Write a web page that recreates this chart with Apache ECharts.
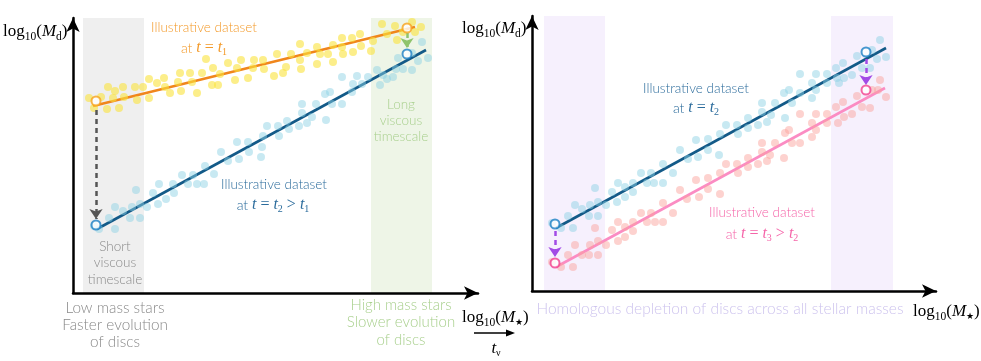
<!DOCTYPE html>
<html>
<head>
<meta charset="utf-8">
<script src="https://cdn.jsdelivr.net/npm/echarts@6/dist/echarts.min.js"></script>
<style>
html, body { margin: 0; padding: 0; background: #fff; }
#main { width: 981px; height: 361px; }
</style>
</head>
<body>
<div id="main"></div>
<script>
// arbitrary log units (x = log M*, y = log Md)
const yellowDots = [[1.6,19.5],[2.1,18.5],[2.8,19.6],[3.4,18.4],[3.5,20.6],[4.2,20.2],[4.0,19.5],[4.6,18.5],[5.0,20.6],[5.1,19.6],
  [6.2,20.6],[6.4,19.3],[7.0,20.6],[7.6,21.4],[7.6,19.5],[8.4,21.0],[9.1,21.5],[9.2,20.6],[9.7,20.0],[10.5,21.1],
  [10.7,22.0],[10.8,20.2],[11.7,22.0],[11.9,21.1],[12.4,20.0],[12.9,22.0],[13.3,23.4],[13.9,20.8],[14.0,22.5],[14.5,20.8],
  [14.7,21.9],[15.5,23.0],[16.2,21.3],[16.4,22.5],[16.8,23.3],[17.5,21.5],[18.0,22.5],[18.1,23.3],[19.0,23.3],[19.1,22.4],
  [20.1,21.7],[20.4,23.9],[21.0,22.0],[21.3,22.6],[21.8,23.9],[22.7,24.9],[22.7,23.3],[22.8,22.4],[23.4,24.0],[24.4,24.6],
  [24.4,22.9],[24.7,23.9],[25.5,23.9],[26.0,24.8],[26.0,23.1],[26.9,25.5],[26.9,24.6],[27.0,23.9],[27.9,25.5],[28.0,24.1],
  [28.7,25.9],[28.8,24.7],[29.8,24.2],[30.0,25.2],[30.9,26.9],[31.4,25.9],[32.2,26.7],[32.4,25.3],[33.0,26.1],[33.9,27.1],
  [34.2,26.1],[34.8,26.6]];

const blueDotsLeft = [[2.1,6.7],[2.6,6.4],[3.6,7.5],[4.2,6.4],[4.2,8.6],[5.0,8.2],[5.7,7.5],[5.9,8.6],[6.3,10.3],[6.7,7.5],
  [6.7,8.9],[7.4,8.6],[8.0,10.0],[8.5,8.9],[8.6,10.9],[9.3,9.4],[10.0,10.9],[10.1,10.0],[10.9,11.8],[11.5,10.9],
  [12.0,11.8],[12.4,10.9],[13.1,10.9],[13.2,12.7],[14.1,11.9],[14.8,14.1],[15.5,13.2],[16.4,15.1],[16.6,13.4],[17.5,15.1],
  [17.6,14.1],[18.8,13.6],[18.9,14.6],[19.0,15.7],[19.4,16.7],[20.5,16.7],[20.6,15.7],[21.4,17.2],[21.6,16.4],[22.6,16.7],
  [22.9,18.9],[22.9,18.0],[23.4,17.0],[23.9,17.6],[24.3,18.9],[25.2,19.9],[25.3,17.3],[25.7,20.1],[25.9,18.9],[26.9,21.6],
  [26.9,18.9],[27.9,20.1],[28.0,20.9],[28.4,21.7],[28.9,20.9],[29.5,21.6],[30.4,22.3],[30.7,20.8],[31.0,21.8],[31.4,21.4],
  [32.0,21.6],[32.3,22.4],[32.5,23.5],[33.0,22.4],[33.9,22.3],[33.9,24.0],[34.5,23.2],[34.9,25.1],[35.5,23.5]];

const blueDotsRight = [[2.0,6.8],[2.9,6.3],[3.6,7.5],[4.1,6.3],[4.3,8.6],[5.0,8.2],[5.7,7.5],[5.8,8.6],[6.3,10.3],[6.6,7.5],
  [6.6,8.9],[7.4,8.6],[8.0,9.9],[8.5,8.9],[8.6,10.8],[9.3,9.4],[9.3,10.4],[10.1,10.8],[10.1,9.9],[10.9,11.8],
  [11.5,10.8],[11.9,11.8],[12.2,10.8],[13.1,10.8],[13.1,12.7],[14.1,11.8],[14.8,14.1],[15.6,13.2],[16.4,15.1],[16.6,13.4],
  [17.6,15.2],[17.6,14.1],[18.7,13.6],[18.8,15.7],[19.4,16.6],[20.5,16.6],[20.6,15.7],[21.6,17.3],[21.6,16.3],[22.6,16.6],
  [23.0,18.8],[23.0,17.9],[23.5,16.9],[23.9,17.6],[24.3,18.8],[25.2,19.8],[25.3,17.3],[25.7,20.1],[26.0,18.8],[26.8,21.7],
  [26.8,19.8],[28.0,20.8],[28.0,19.3],[28.4,21.7],[28.4,20.1],[29.5,21.7],[29.5,20.8],[30.4,22.3],[30.5,21.3],[30.7,20.8],
  [31.1,22.8],[31.2,21.3],[32.0,21.6],[32.5,23.5],[33.0,22.3],[33.8,22.3],[34.0,24.1],[34.5,23.2],[34.8,25.1],[35.4,23.4]];

const pinkDots = [[2.0,2.9],[2.9,2.4],[3.6,3.6],[4.1,2.4],[4.3,4.6],[5.0,3.6],[5.7,3.6],[5.8,4.6],[6.3,6.3],[6.6,3.6],
  [6.6,5.0],[7.4,4.6],[8.0,6.1],[8.6,6.9],[8.6,5.0],[9.3,6.4],[9.3,5.4],[10.1,6.9],[10.1,6.0],[10.9,7.8],
  [11.5,6.9],[11.9,7.8],[12.3,6.9],[13.1,8.8],[13.1,6.9],[14.1,7.8],[14.8,10.1],[15.5,9.2],[16.4,11.1],[16.7,9.4],
  [17.6,11.3],[17.6,10.2],[18.8,11.8],[18.8,9.7],[19.4,12.7],[20.5,12.7],[20.6,11.8],[21.6,13.3],[21.6,12.4],[22.6,12.7],
  [23.0,14.8],[23.0,13.9],[23.5,13.0],[23.8,13.6],[24.3,14.8],[25.2,13.3],[25.3,15.8],[25.7,16.1],[26.0,14.8],[26.8,17.7],
  [26.8,14.8],[28.0,16.8],[28.0,15.4],[28.4,17.7],[28.4,16.1],[29.5,17.7],[29.5,16.8],[30.4,18.4],[30.6,16.8],[31.1,18.9],
  [31.2,17.4],[32.0,17.7],[32.5,19.5],[33.0,18.4],[33.8,18.3],[34.0,20.1],[34.6,20.1],[34.8,21.1],[35.4,19.4]];

// fitted trends
const orangeFit = [[2.0,18.7],[34.2,26.6]];
const blueFitLeft = [[2.4,6.4],[35.3,24.3]];
const blueFitRight = [[2.4,6.3],[35.4,24.3]];
const pinkFit = [[2.4,2.4],[35.3,20.3]];

// tracked points at low / high stellar mass
const orangeMarks = [[2.3,19.2],[33.4,26.5]];
const blueMarksLeft = [[2.3,6.8],[33.4,23.9]];
const blueMarksRight = [[2.3,6.7],[33.4,23.9]];
const pinkMarks = [[2.3,2.8],[33.4,20.1]];

// shaded mass ranges [x0, x1]
const lowBand = [1.0, 7.1];
const highBand = [29.8, 35.9];
const lowBandR = [1.2, 7.3];
const highBandR = [29.9, 36.1];

const sans = 'Lato, "Liberation Sans", sans-serif';
const serif = '"Liberation Serif", "DejaVu Serif", serif';

let myChart = echarts.init(document.getElementById('main'));

function axisPair(i, xmax) {
    let common = {
        gridIndex: i, type: 'value', min: 0, z: 10,
        axisLine: { show: true, onZero: false, symbol: ['none', 'arrow'], symbolSize: [10, 14],
                    lineStyle: { color: '#000', width: 2.5 } },
        axisTick: { show: false }, axisLabel: { show: false }, splitLine: { show: false }
    };
    return [Object.assign({}, common, { max: xmax }), Object.assign({}, common, { max: 27.5 })];
}

function band(range, color) {
    return [{ xAxis: range[0], yAxis: 0, itemStyle: { color: color } }, { xAxis: range[1], yAxis: 27.5 }];
}

function dots(i, data, color) {
    return { type: 'scatter', xAxisIndex: i, yAxisIndex: i, data: data, symbolSize: 8, z: 3,
             itemStyle: { color: color }, silent: true };
}

function fit(i, data, color) {
    return { type: 'line', xAxisIndex: i, yAxisIndex: i, data: data, symbol: 'none', z: 2,
             lineStyle: { color: color, width: 2.6 }, silent: true };
}

function marks(i, data, color) {
    return { type: 'scatter', xAxisIndex: i, yAxisIndex: i, data: data, symbolSize: 9, z: 6,
             itemStyle: { color: '#fff', borderColor: color, borderWidth: 2 }, silent: true };
}

function arrow(i, from, to, color) {
    return { type: 'line', xAxisIndex: i, yAxisIndex: i, data: [], z: 5,
             markLine: { silent: true, symbol: ['none', 'arrow'], symbolSize: [10, 10], label: { show: false },
                         lineStyle: { color: color, width: 2.5, type: [5, 4] },
                         data: [[{ coord: from }, { coord: to }]] } };
}

function mathRich(color) {
    return {
        a: { fontFamily: sans, fontSize: 14, fontWeight: 300, fill: color },
        m: { fontFamily: serif, fontSize: 16, fill: color },
        i: { fontFamily: serif, fontSize: 16, fontStyle: 'italic', fill: color },
        s: { fontFamily: serif, fontSize: 10, fill: color, padding: [8, 0, 0, 0] },
        M: { fontFamily: serif, fontSize: 17, fill: color },
        I: { fontFamily: serif, fontSize: 17, fontStyle: 'italic', fill: color },
        S: { fontFamily: serif, fontSize: 11.5, fill: color, padding: [9, 0, 0, 0] },
        st: { fontFamily: serif, fontSize: 9, fill: color, padding: [9, 0, 0, 0] }
    };
}

function txt(x, y, text, color, size, align) {
    return { type: 'text', x: x, y: y, silent: true, z: 20,
             style: { text: text, fill: color, font: '300 ' + (size || 14) + 'px ' + sans,
                      align: align || 'center', verticalAlign: 'middle' } };
}

function rtxt(x, y, text, color, align) {
    return { type: 'text', x: x, y: y, silent: true, z: 20,
             style: { text: text, rich: mathRich(color), align: align || 'center', verticalAlign: 'middle' } };
}

let leftAxes = axisPair(0, 40.5);
let rightAxes = axisPair(1, 40.4);

const mdLabel = '{M|log}{S|10}{M|(}{I|M}{S|d}{M|)}';
const mstarLabel = '{M|log}{S|10}{M|(}{I|M}{st|★}{M|)}';

let option = {
    animation: false,
    grid: [
        { left: 73, top: 18, width: 405, height: 275 },
        { left: 532, top: 16, width: 404, height: 275 }
    ],
    xAxis: [leftAxes[0], rightAxes[0]],
    yAxis: [leftAxes[1], rightAxes[1]],
    series: [
        { type: 'scatter', xAxisIndex: 0, yAxisIndex: 0, data: [], z: 1,
          markArea: { silent: true, data: [band(lowBand, '#efefef'), band(highBand, '#eef5e7')] } },
        { type: 'scatter', xAxisIndex: 1, yAxisIndex: 1, data: [], z: 1,
          markArea: { silent: true, data: [band(lowBandR, '#f6f0fd'), band(highBandR, '#f6f0fd')] } },
        fit(0, orangeFit, '#f0861c'),
        fit(0, blueFitLeft, '#135a88'),
        fit(1, blueFitRight, '#135a88'),
        fit(1, pinkFit, '#fb8cc3'),
        dots(0, yellowDots, 'rgba(250,226,60,0.75)'),
        dots(0, blueDotsLeft, 'rgba(140,210,228,0.6)'),
        dots(1, blueDotsRight, 'rgba(140,210,228,0.6)'),
        dots(1, pinkDots, 'rgba(251,160,155,0.6)'),
        arrow(0, [2.3, 18.3], [2.3, 7.4], '#555'),
        arrow(0, [33.4, 26.0], [33.4, 24.5], '#8fc46c'),
        arrow(1, [2.3, 6.0], [2.3, 3.4], '#a24be6'),
        arrow(1, [33.4, 23.2], [33.4, 20.6], '#a24be6'),
        marks(0, orangeMarks, '#f7a21b'),
        marks(0, blueMarksLeft, '#1b7fc4'),
        marks(1, blueMarksRight, '#1b7fc4'),
        marks(1, pinkMarks, '#f2408e')
    ],
    graphic: [
        rtxt(3, 32, mdLabel, '#000', 'left'),
        rtxt(462, 29, mdLabel, '#000', 'left'),
        rtxt(462, 318, mstarLabel, '#000', 'left'),
        rtxt(913, 312, mstarLabel, '#000', 'left'),
        { type: 'line', silent: true, shape: { x1: 474, y1: 333, x2: 508, y2: 333 },
          style: { stroke: '#000', lineWidth: 1.5 } },
        { type: 'polygon', silent: true, shape: { points: [[515, 333], [506, 329.5], [506, 336.5]] },
          style: { fill: '#000' } },
        rtxt(496, 349, '{I|t}{s|ν}', '#000'),

        txt(204, 28, 'Illustrative dataset', '#f39a2a', 13.5),
        rtxt(204, 48, '{a|at }{i|t}{m| = }{i|t}{s|1}', '#f39a2a'),
        txt(274, 185, 'Illustrative dataset', '#2c6c9c', 13.5),
        rtxt(273, 205, '{a|at }{i|t}{m| = }{i|t}{s|2}{m| > }{i|t}{s|1}', '#2c6c9c'),
        txt(115, 247, 'Short', '#8a8a8a', 13.5),
        txt(115, 263, 'viscous', '#8a8a8a', 13.5),
        txt(115, 280, 'timescale', '#8a8a8a', 13.5),
        txt(401, 105, 'Long', '#a9d08e', 13.5),
        txt(401, 121, 'viscous', '#a9d08e', 13.5),
        txt(401, 137, 'timescale', '#a9d08e', 13.5),
        txt(115, 308, 'Low mass stars', '#8a8a8a', 15.3),
        txt(115, 325, 'Faster evolution', '#8a8a8a', 15.3),
        txt(115, 342, 'of discs', '#8a8a8a', 15.3),
        txt(401, 305, 'High mass stars', '#a9d08e', 15),
        txt(401, 322, 'Slower evolution', '#a9d08e', 15),
        txt(401, 340, 'of discs', '#a9d08e', 15),

        txt(696, 89, 'Illustrative dataset', '#2c6c9c', 13.5),
        rtxt(696, 108, '{a|at }{i|t}{m| = }{i|t}{s|2}', '#2c6c9c'),
        txt(762, 213, 'Illustrative dataset', '#f565a9', 13.5),
        rtxt(762, 234, '{a|at }{i|t}{m| = }{i|t}{s|3}{m| > }{i|t}{s|2}', '#f565a9'),
        txt(720, 309, 'Homologous depletion of discs across all stellar masses', '#cdc3ee', 15.5)
    ]
};
myChart.setOption(option);
</script>
</body>
</html>
